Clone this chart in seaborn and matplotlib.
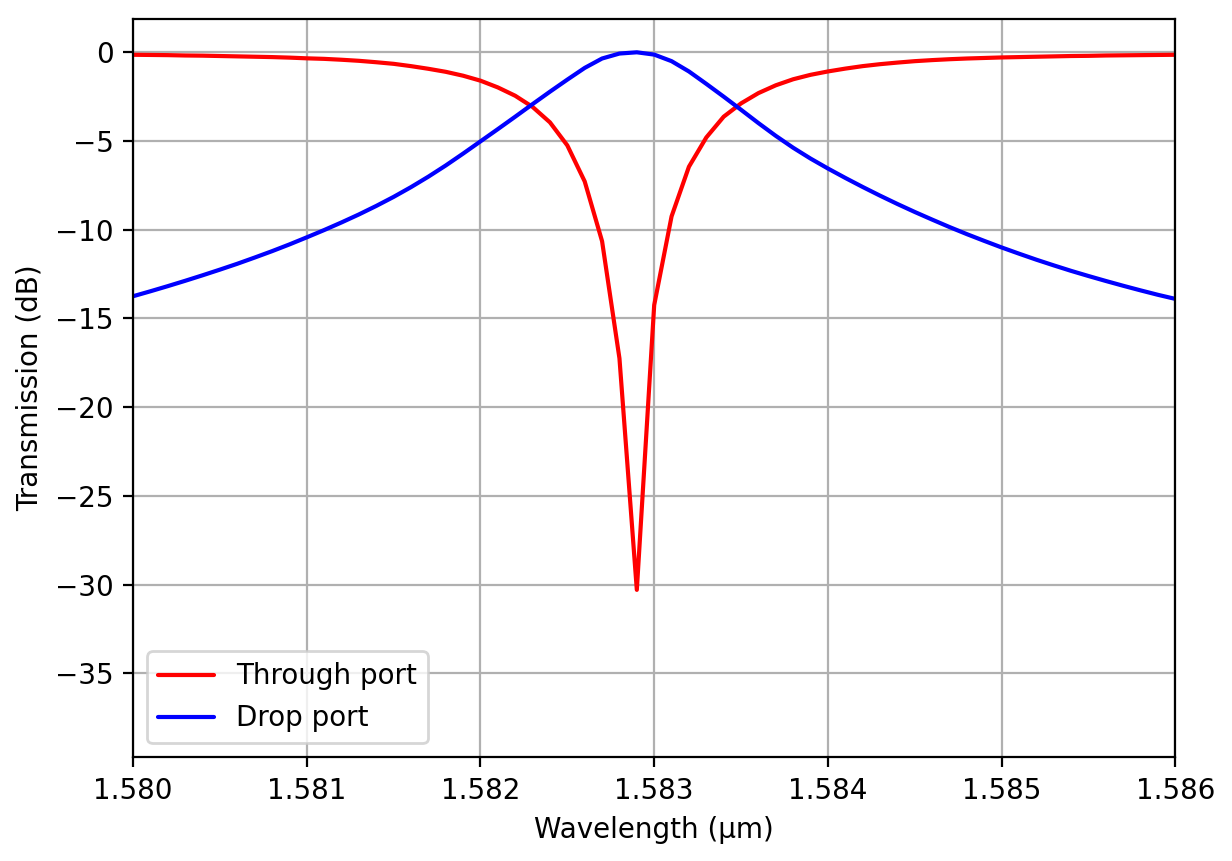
import pandas as pd
import seaborn as sns
import matplotlib
matplotlib.use('Agg')
import matplotlib.pyplot as plt

sns.set_style("ticks", {'axes.grid': True})
plt.rcParams['font.family'] = ['DejaVu Sans']
plt.rcParams['axes.edgecolor'] = 'black'
plt.rcParams['grid.color'] = '#b0b0b0'
plt.rcParams['grid.linewidth'] = 0.8
plt.rcParams['xtick.color'] = 'black'
plt.rcParams['ytick.color'] = 'black'
plt.rcParams['axes.labelcolor'] = 'black'
plt.rcParams['text.color'] = 'black'

# wavelength samples (um)
wavelength = [
    1.5800, 1.5801, 1.5802, 1.5803, 1.5804, 1.5805, 1.5806, 1.5807, 1.5808, 1.5809,
    1.5810, 1.5811, 1.5812, 1.5813, 1.5814, 1.5815, 1.5816, 1.5817, 1.5818, 1.5819,
    1.5820, 1.5821, 1.5822, 1.5823, 1.5824, 1.5825, 1.5826, 1.5827, 1.5828, 1.5829,
    1.5830, 1.5831, 1.5832, 1.5833, 1.5834, 1.5835, 1.5836, 1.5837, 1.5838, 1.5839,
    1.5840, 1.5841, 1.5842, 1.5843, 1.5844, 1.5845, 1.5846, 1.5847, 1.5848, 1.5849,
    1.5850, 1.5851, 1.5852, 1.5853, 1.5854, 1.5855, 1.5856, 1.5857, 1.5858, 1.5859,
    1.5860,
]

# through port transmission (dB)
through_db = [
    -0.14, -0.15, -0.16, -0.18, -0.19, -0.21, -0.23, -0.25, -0.27, -0.30,
    -0.34, -0.37, -0.42, -0.48, -0.56, -0.65, -0.78, -0.93, -1.10, -1.32,
    -1.60, -1.98, -2.45, -3.08, -3.95, -5.25, -7.28, -10.65, -17.25, -30.3,
    -14.25, -9.25, -6.45, -4.80, -3.63, -2.88, -2.30, -1.86, -1.52, -1.27,
    -1.08, -0.92, -0.78, -0.67, -0.58, -0.50, -0.44, -0.39, -0.35, -0.32,
    -0.29, -0.27, -0.25, -0.23, -0.21, -0.20, -0.18, -0.17, -0.16, -0.15,
    -0.14,
]

# drop port transmission (dB)
drop_db = [
    -13.75, -13.47, -13.18, -12.88, -12.57, -12.25, -11.92, -11.57, -11.21, -10.83,
    -10.43, -10.02, -9.59, -9.14, -8.66, -8.15, -7.60, -7.01, -6.38, -5.71,
    -5.02, -4.33, -3.63, -2.92, -2.22, -1.54, -0.88, -0.35, -0.07, 0.0,
    -0.13, -0.50, -1.08, -1.78, -2.50, -3.24, -3.99, -4.71, -5.38, -5.99,
    -6.55, -7.08, -7.59, -8.08, -8.55, -9.00, -9.43, -9.85, -10.25, -10.63,
    -11.00, -11.35, -11.69, -12.01, -12.32, -12.61, -12.89, -13.16, -13.42, -13.67,
    -13.90,
]


def main():
    df = pd.DataFrame({'wavelength': wavelength, 'through': through_db, 'drop': drop_db})

    fig, ax = plt.subplots(figsize=(6.16, 4.305), dpi=200)
    sns.lineplot(data=df, x='wavelength', y='through', color='red', linewidth=1.5,
                 label='Through port', ax=ax)
    sns.lineplot(data=df, x='wavelength', y='drop', color='blue', linewidth=1.5,
                 label='Drop port', ax=ax)

    ax.set_xlim(1.580, 1.586)
    ax.set_ylim(-39.74, 1.88)
    ax.set_xticks([1.580, 1.581, 1.582, 1.583, 1.584, 1.585, 1.586])
    ax.set_xticklabels(['1.580', '1.581', '1.582', '1.583', '1.584', '1.585', '1.586'])
    ax.set_yticks([0, -5, -10, -15, -20, -25, -30, -35])
    ax.set_xlabel('Wavelength (\u00b5m)')
    ax.set_ylabel('Transmission (dB)')
    ax.grid(True, color='#b0b0b0', linewidth=0.8)
    for s in ax.spines.values():
        s.set_color('black')
        s.set_linewidth(0.8)
    ax.tick_params(direction='out', length=3.5, width=0.8, colors='black')
    ax.legend(loc='lower left')

    fig.subplots_adjust(left=0.108, right=0.954, top=0.978, bottom=0.1204)
    fig.savefig('out.png', dpi=200)


if __name__ == '__main__':
    main()
